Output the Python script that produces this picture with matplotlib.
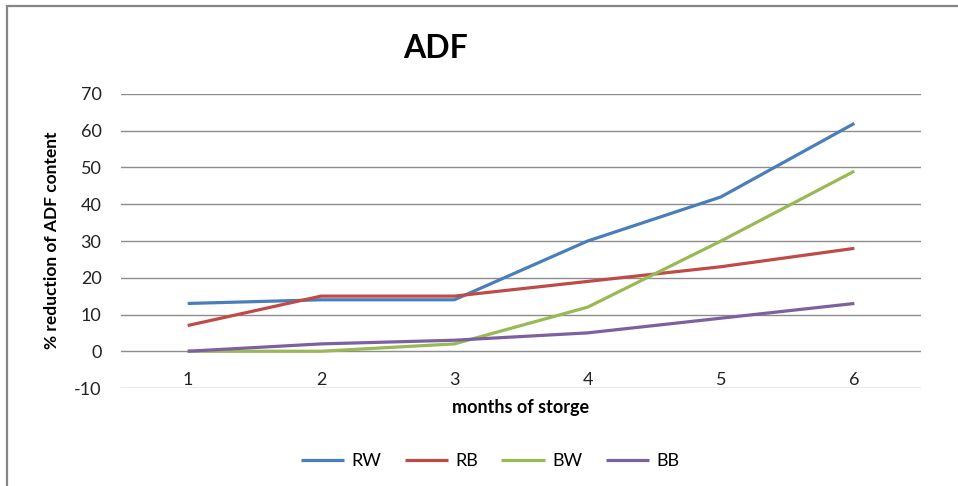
import matplotlib
matplotlib.use("Agg")
import matplotlib.pyplot as plt
from matplotlib.patches import Rectangle

plt.rcParams['font.family'] = ['Lato', 'DejaVu Sans']
plt.rcParams['axes.unicode_minus'] = False

# === chart data ===
months = [1, 2, 3, 4, 5, 6]
rw = [13, 14, 14, 30, 42, 62]
rb = [7, 15, 15, 19, 23, 28]
bw = [0, 0, 2, 12, 30, 49]
bb = [0, 2, 3, 5, 9, 13]

series = [("RW", rw, "#4A7EBB"), ("RB", rb, "#BE4B48"),
          ("BW", bw, "#98B954"), ("BB", bb, "#7D60A0")]

W, H = 958, 486
fig = plt.figure(figsize=(W / 100, H / 100), dpi=100)
ax = fig.add_axes([121 / W, 1 - 388 / H, 800 / W, 294 / H])

# outer chart frame (Excel style)
fig.patches.append(Rectangle((7 / W, -0.05), 1.2, 1 - 6 / H + 0.05,
                             transform=fig.transFigure, fill=False,
                             edgecolor="#868686", linewidth=1.6))

for name, vals, col in series:
    ax.plot(months, vals, color=col, linewidth=2.3, label=name,
            solid_capstyle="butt")

ax.set_xlim(0.5, 6.5)
ax.set_ylim(-10, 70)
ax.set_yticks(range(-10, 71, 10))
ax.set_xticks(months)
ax.grid(axis="y", color="#8c8c8c", linewidth=1)
ax.set_axisbelow(True)
for s in ax.spines.values():
    s.set_visible(False)
ax.spines["bottom"].set_position(("data", 0))
ax.tick_params(axis="both", length=0, labelsize=13, colors="#222222")
ax.tick_params(axis="x", pad=15)
ax.tick_params(axis="y", pad=14)

fig.text(436 / W, 1 - 48 / H, "ADF", fontsize=23, fontweight="bold",
         ha="center", va="center")
fig.text(521 / W, 1 - 407 / H, "months of storge", fontsize=13,
         fontweight="bold", ha="center", va="center")
fig.text(52 / W, 1 - 240 / H, "% reduction of ADF content", fontsize=12.5,
         fontweight="bold", ha="center", va="center", rotation=90)

fig.legend(loc="center", bbox_to_anchor=(490 / W, 1 - 461 / H), ncol=4,
           frameon=False, fontsize=13, handlelength=2.4,
           columnspacing=1.3, handletextpad=0.4)

fig.savefig("out.png", dpi=100)
